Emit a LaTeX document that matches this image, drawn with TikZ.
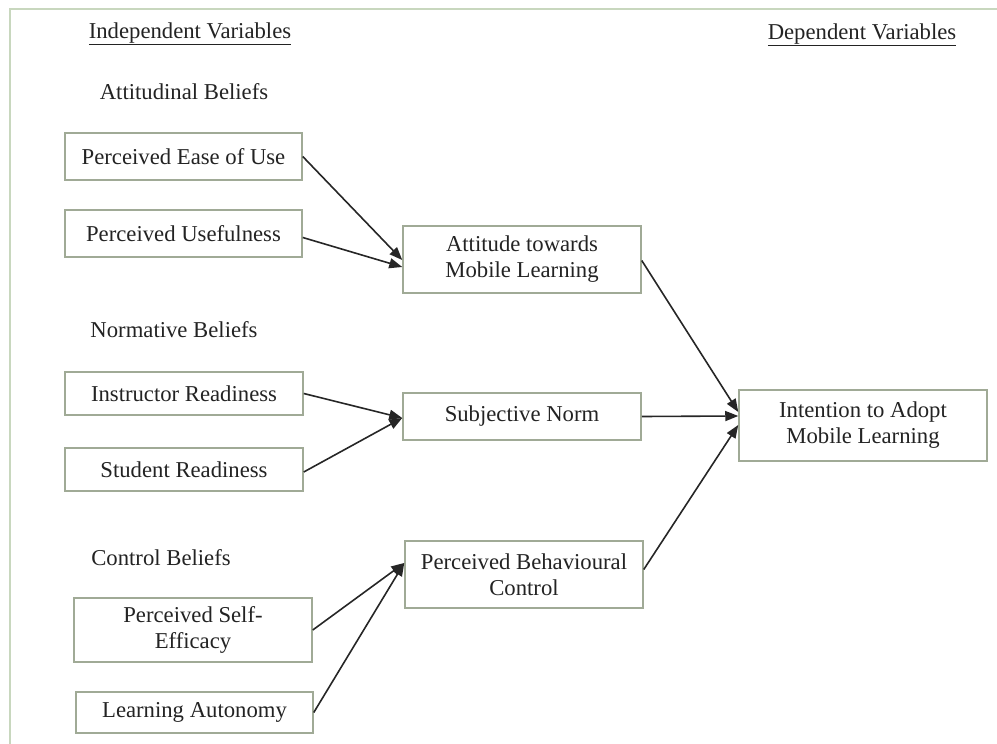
\documentclass[tikz,border=0pt]{standalone}
\usepackage{fontspec}
\setmainfont{Liberation Serif}
\usetikzlibrary{arrows.meta,calc}
\definecolor{boxline}{RGB}{160,170,150}
\definecolor{frameline}{RGB}{200,215,190}
\definecolor{txt}{RGB}{35,35,35}
\begin{document}
\begin{tikzpicture}[x=1pt,y=-1pt,
  vbox/.style={draw=boxline,line width=1.5pt,fill=white,minimum width=237pt,inner sep=0pt,align=center,text=txt,font=\fontsize{22.7}{26}\selectfont},
  lbl/.style={text=txt,font=\fontsize{22.7}{26}\selectfont,inner sep=0pt},
  conn/.style={draw=black!85,line width=1.6pt,-{Triangle[length=13pt,width=10pt]}}]
\useasboundingbox (0,0) rectangle (997,744);
\draw[frameline,line width=1.2pt] (10,744) -- (10,9) -- (997,9);
% headings
\node[lbl] (indep) at (190,34) {\underline{Independent Variables}};
\node[lbl] (dep) at (862,35) {\underline{Dependent Variables}};
\node[lbl] (attb) at (184,92) {Attitudinal Beliefs};
\node[lbl] (normb) at (174,330) {Normative Beliefs};
\node[lbl] (ctrlb) at (161,558) {Control Beliefs};
% boxes
\node[vbox,minimum height=47pt] (peu) at (183.5,156.5) {Perceived Ease of Use};
\node[vbox,minimum height=47pt] (pu) at (183.5,233.5) {Perceived Usefulness};
\node[vbox,minimum width=238pt,minimum height=67pt] (att) at (522,259.5) {Attitude towards\\Mobile Learning};
\node[vbox,minimum width=238pt,minimum height=43pt] (ir) at (184,393.5) {Instructor Readiness};
\node[vbox,minimum width=238pt,minimum height=43pt] (sr) at (184,469.5) {Student Readiness};
\node[vbox,minimum width=238pt,minimum height=47pt] (sn) at (522,416.5) {Subjective Norm};
\node[vbox,minimum width=248pt,minimum height=71pt] (int) at (863,425.5) {Intention to Adopt\\Mobile Learning};
\node[vbox,minimum width=238pt,minimum height=67pt] (pbc) at (524,574.5) {Perceived Behavioural\\Control};
\node[vbox,minimum width=238pt,minimum height=64pt] (pse) at (193,630) {Perceived Self-\\Efficacy};
\node[vbox,minimum height=41pt] (la) at (194.5,712.5) {Learning Autonomy};
% connectors
\draw[conn] (peu.east) -- ([yshift=-0.5pt]att.west);
\draw[conn] ([yshift=-4pt]pu.east) -- ([yshift=-7.5pt]att.west);
\draw[conn] (ir.east) -- ([yshift=-1.5pt]sn.west);
\draw[conn] ([yshift=-2.5pt]sr.east) -- ([yshift=-1.5pt]sn.west);
\draw[conn] (pse.east) -- ([yshift=11.5pt]pbc.west);
\draw[conn] (la.east) -- ([yshift=11.5pt]pbc.west);
\draw[conn] ([yshift=-1pt]att.east) -- ([yshift=13.5pt]int.west);
\draw[conn] (sn.east) -- ([yshift=9.5pt]int.west);
\draw[conn] ([yshift=5pt]pbc.east) -- ([yshift=0.5pt]int.west);
\end{tikzpicture}
\end{document}
